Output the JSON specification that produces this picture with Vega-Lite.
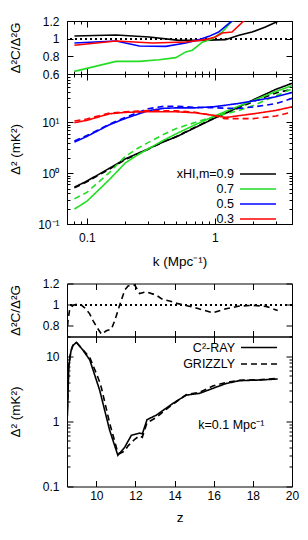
{
  "$schema": "https://vega.github.io/schema/vega-lite/v6.json",
  "padding": {"left": 7, "top": 14, "right": 15, "bottom": 5},
  "background": "white",
  "config": {
    "font": "Liberation Sans",
    "view": {"stroke": "black", "strokeWidth": 1},
    "axis": {
      "labelFont": "Liberation Sans", "labelFontSize": 12, "labelColor": "black",
      "titleFont": "Liberation Sans", "titleFontSize": 13.5, "titleFontWeight": "normal", "titleColor": "black",
      "domain": false, "grid": false, "tickColor": "black", "tickWidth": 1,
      "labelFlush": false, "labelOverlap": false, "labelBound": false
    },
    "legend": {"labelFont": "Liberation Sans", "labelFontSize": 12.5, "labelColor": "black"},
    "line": {"strokeWidth": 1.6}
  },
  "datasets": {
    "ratio_k": [
      {"x": "0.9", "k": 0.08, "r": 1.03}, {"x": "0.9", "k": 0.169, "r": 1.042}, {"x": "0.9", "k": 0.307, "r": 1.019}, {"x": "0.9", "k": 0.525, "r": 0.981}, {"x": "0.9", "k": 0.751, "r": 0.981}, {"x": "0.9", "k": 1.21, "r": 0.989}, {"x": "0.9", "k": 1.54, "r": 1.038}, {"x": "0.9", "k": 1.95, "r": 1.075}, {"x": "0.9", "k": 2.48, "r": 1.132}, {"x": "0.9", "k": 3.14, "r": 1.2}, {"x": "0.9", "k": 4, "r": 1.3},
      {"x": "0.7", "k": 0.08, "r": 0.63}, {"x": "0.7", "k": 0.169, "r": 0.743}, {"x": "0.7", "k": 0.257, "r": 0.743}, {"x": "0.7", "k": 0.367, "r": 0.762}, {"x": "0.7", "k": 0.495, "r": 0.785}, {"x": "0.7", "k": 0.592, "r": 0.85}, {"x": "0.7", "k": 0.667, "r": 0.87}, {"x": "0.7", "k": 0.797, "r": 0.96}, {"x": "0.7", "k": 0.953, "r": 1.0}, {"x": "0.7", "k": 1.14, "r": 1.075}, {"x": "0.7", "k": 1.36, "r": 1.2}, {"x": "0.7", "k": 2, "r": 1.25},
      {"x": "0.5", "k": 0.08, "r": 0.951}, {"x": "0.5", "k": 0.169, "r": 0.974}, {"x": "0.5", "k": 0.257, "r": 0.917}, {"x": "0.5", "k": 0.414, "r": 0.913}, {"x": "0.5", "k": 0.592, "r": 0.951}, {"x": "0.5", "k": 0.751, "r": 0.989}, {"x": "0.5", "k": 0.898, "r": 1.026}, {"x": "0.5", "k": 1.07, "r": 1.075}, {"x": "0.5", "k": 1.28, "r": 1.17}, {"x": "0.5", "k": 1.36, "r": 1.2}, {"x": "0.5", "k": 2, "r": 1.31},
      {"x": "0.3", "k": 0.08, "r": 0.925}, {"x": "0.3", "k": 0.169, "r": 0.974}, {"x": "0.3", "k": 0.326, "r": 0.951}, {"x": "0.3", "k": 0.592, "r": 0.962}, {"x": "0.3", "k": 0.846, "r": 0.989}, {"x": "0.3", "k": 1.01, "r": 1.019}, {"x": "0.3", "k": 1.14, "r": 1.064}, {"x": "0.3", "k": 1.36, "r": 1.075}, {"x": "0.3", "k": 1.68, "r": 1.2}, {"x": "0.3", "k": 2, "r": 1.28}
    ],
    "pk": [
      {"x": "0.9", "model": "C²-RAY", "k": 0.08, "v": 0.53}, {"x": "0.9", "model": "C²-RAY", "k": 0.1, "v": 0.7}, {"x": "0.9", "model": "C²-RAY", "k": 0.15, "v": 1.25}, {"x": "0.9", "model": "C²-RAY", "k": 0.2, "v": 1.92}, {"x": "0.9", "model": "C²-RAY", "k": 0.3, "v": 3.0}, {"x": "0.9", "model": "C²-RAY", "k": 0.4, "v": 4.2}, {"x": "0.9", "model": "C²-RAY", "k": 0.5, "v": 5.2}, {"x": "0.9", "model": "C²-RAY", "k": 0.7, "v": 7.9}, {"x": "0.9", "model": "C²-RAY", "k": 1, "v": 12.2}, {"x": "0.9", "model": "C²-RAY", "k": 1.5, "v": 19.5}, {"x": "0.9", "model": "C²-RAY", "k": 2, "v": 28}, {"x": "0.9", "model": "C²-RAY", "k": 3, "v": 45}, {"x": "0.9", "model": "C²-RAY", "k": 4, "v": 59},
      {"x": "0.9", "model": "GRIZZLY", "k": 0.08, "v": 0.515}, {"x": "0.9", "model": "GRIZZLY", "k": 0.1, "v": 0.677}, {"x": "0.9", "model": "GRIZZLY", "k": 0.15, "v": 1.2}, {"x": "0.9", "model": "GRIZZLY", "k": 0.2, "v": 1.86}, {"x": "0.9", "model": "GRIZZLY", "k": 0.3, "v": 2.94}, {"x": "0.9", "model": "GRIZZLY", "k": 0.4, "v": 4.2}, {"x": "0.9", "model": "GRIZZLY", "k": 0.5, "v": 5.28}, {"x": "0.9", "model": "GRIZZLY", "k": 0.7, "v": 8.05}, {"x": "0.9", "model": "GRIZZLY", "k": 1, "v": 12.4}, {"x": "0.9", "model": "GRIZZLY", "k": 1.5, "v": 18.8}, {"x": "0.9", "model": "GRIZZLY", "k": 2, "v": 25.9}, {"x": "0.9", "model": "GRIZZLY", "k": 3, "v": 38}, {"x": "0.9", "model": "GRIZZLY", "k": 4, "v": 45.4},
      {"x": "0.7", "model": "C²-RAY", "k": 0.08, "v": 0.197}, {"x": "0.7", "model": "C²-RAY", "k": 0.1, "v": 0.28}, {"x": "0.7", "model": "C²-RAY", "k": 0.15, "v": 0.75}, {"x": "0.7", "model": "C²-RAY", "k": 0.2, "v": 1.6}, {"x": "0.7", "model": "C²-RAY", "k": 0.25, "v": 2.3}, {"x": "0.7", "model": "C²-RAY", "k": 0.3, "v": 3.0}, {"x": "0.7", "model": "C²-RAY", "k": 0.4, "v": 4.5}, {"x": "0.7", "model": "C²-RAY", "k": 0.5, "v": 6.0}, {"x": "0.7", "model": "C²-RAY", "k": 0.7, "v": 9.0}, {"x": "0.7", "model": "C²-RAY", "k": 1, "v": 13.5}, {"x": "0.7", "model": "C²-RAY", "k": 1.5, "v": 20.5}, {"x": "0.7", "model": "C²-RAY", "k": 2, "v": 27}, {"x": "0.7", "model": "C²-RAY", "k": 3, "v": 41}, {"x": "0.7", "model": "C²-RAY", "k": 4, "v": 53},
      {"x": "0.7", "model": "GRIZZLY", "k": 0.08, "v": 0.313}, {"x": "0.7", "model": "GRIZZLY", "k": 0.1, "v": 0.42}, {"x": "0.7", "model": "GRIZZLY", "k": 0.15, "v": 1.03}, {"x": "0.7", "model": "GRIZZLY", "k": 0.2, "v": 2.15}, {"x": "0.7", "model": "GRIZZLY", "k": 0.25, "v": 3.1}, {"x": "0.7", "model": "GRIZZLY", "k": 0.3, "v": 4.0}, {"x": "0.7", "model": "GRIZZLY", "k": 0.4, "v": 5.84}, {"x": "0.7", "model": "GRIZZLY", "k": 0.5, "v": 7.6}, {"x": "0.7", "model": "GRIZZLY", "k": 0.7, "v": 10}, {"x": "0.7", "model": "GRIZZLY", "k": 1, "v": 13.2}, {"x": "0.7", "model": "GRIZZLY", "k": 1.5, "v": 16.8}, {"x": "0.7", "model": "GRIZZLY", "k": 2, "v": 21.6}, {"x": "0.7", "model": "GRIZZLY", "k": 3, "v": 33.6}, {"x": "0.7", "model": "GRIZZLY", "k": 4, "v": 45.7},
      {"x": "0.5", "model": "C²-RAY", "k": 0.08, "v": 4.1}, {"x": "0.5", "model": "C²-RAY", "k": 0.1, "v": 5.3}, {"x": "0.5", "model": "C²-RAY", "k": 0.15, "v": 9.0}, {"x": "0.5", "model": "C²-RAY", "k": 0.2, "v": 12.0}, {"x": "0.5", "model": "C²-RAY", "k": 0.3, "v": 17.0}, {"x": "0.5", "model": "C²-RAY", "k": 0.4, "v": 19.0}, {"x": "0.5", "model": "C²-RAY", "k": 0.5, "v": 19.4}, {"x": "0.5", "model": "C²-RAY", "k": 0.7, "v": 19.4}, {"x": "0.5", "model": "C²-RAY", "k": 1, "v": 20.5}, {"x": "0.5", "model": "C²-RAY", "k": 1.5, "v": 23.5}, {"x": "0.5", "model": "C²-RAY", "k": 2, "v": 26.5}, {"x": "0.5", "model": "C²-RAY", "k": 3, "v": 32}, {"x": "0.5", "model": "C²-RAY", "k": 4, "v": 39},
      {"x": "0.5", "model": "GRIZZLY", "k": 0.08, "v": 4.31}, {"x": "0.5", "model": "GRIZZLY", "k": 0.1, "v": 5.53}, {"x": "0.5", "model": "GRIZZLY", "k": 0.15, "v": 9.28}, {"x": "0.5", "model": "GRIZZLY", "k": 0.2, "v": 12.6}, {"x": "0.5", "model": "GRIZZLY", "k": 0.3, "v": 18.6}, {"x": "0.5", "model": "GRIZZLY", "k": 0.4, "v": 20.8}, {"x": "0.5", "model": "GRIZZLY", "k": 0.5, "v": 20.9}, {"x": "0.5", "model": "GRIZZLY", "k": 0.7, "v": 19.9}, {"x": "0.5", "model": "GRIZZLY", "k": 1, "v": 19.4}, {"x": "0.5", "model": "GRIZZLY", "k": 1.5, "v": 18.8}, {"x": "0.5", "model": "GRIZZLY", "k": 2, "v": 20.2}, {"x": "0.5", "model": "GRIZZLY", "k": 3, "v": 23.5}, {"x": "0.5", "model": "GRIZZLY", "k": 4, "v": 29.8},
      {"x": "0.3", "model": "C²-RAY", "k": 0.08, "v": 9.9}, {"x": "0.3", "model": "C²-RAY", "k": 0.1, "v": 11.0}, {"x": "0.3", "model": "C²-RAY", "k": 0.15, "v": 14.8}, {"x": "0.3", "model": "C²-RAY", "k": 0.2, "v": 15.8}, {"x": "0.3", "model": "C²-RAY", "k": 0.3, "v": 16.3}, {"x": "0.3", "model": "C²-RAY", "k": 0.4, "v": 16.2}, {"x": "0.3", "model": "C²-RAY", "k": 0.5, "v": 16.2}, {"x": "0.3", "model": "C²-RAY", "k": 0.7, "v": 15.5}, {"x": "0.3", "model": "C²-RAY", "k": 1, "v": 13.7}, {"x": "0.3", "model": "C²-RAY", "k": 1.2, "v": 12.6}, {"x": "0.3", "model": "C²-RAY", "k": 1.3, "v": 12.8}, {"x": "0.3", "model": "C²-RAY", "k": 1.5, "v": 13.5}, {"x": "0.3", "model": "C²-RAY", "k": 2, "v": 14.8}, {"x": "0.3", "model": "C²-RAY", "k": 3, "v": 17.3}, {"x": "0.3", "model": "C²-RAY", "k": 4, "v": 20.3},
      {"x": "0.3", "model": "GRIZZLY", "k": 0.08, "v": 10.7}, {"x": "0.3", "model": "GRIZZLY", "k": 0.1, "v": 11.7}, {"x": "0.3", "model": "GRIZZLY", "k": 0.15, "v": 15.3}, {"x": "0.3", "model": "GRIZZLY", "k": 0.2, "v": 16.3}, {"x": "0.3", "model": "GRIZZLY", "k": 0.3, "v": 17.1}, {"x": "0.3", "model": "GRIZZLY", "k": 0.4, "v": 17.0}, {"x": "0.3", "model": "GRIZZLY", "k": 0.5, "v": 16.9}, {"x": "0.3", "model": "GRIZZLY", "k": 0.7, "v": 15.9}, {"x": "0.3", "model": "GRIZZLY", "k": 1, "v": 13.5}, {"x": "0.3", "model": "GRIZZLY", "k": 1.2, "v": 11.8}, {"x": "0.3", "model": "GRIZZLY", "k": 1.3, "v": 11.9}, {"x": "0.3", "model": "GRIZZLY", "k": 1.5, "v": 11.9}, {"x": "0.3", "model": "GRIZZLY", "k": 2, "v": 11.9}, {"x": "0.3", "model": "GRIZZLY", "k": 3, "v": 13.4}, {"x": "0.3", "model": "GRIZZLY", "k": 4, "v": 16.1}
    ],
    "ratio_z": [
      {"z": 8.5, "r": 0.706}, {"z": 8.55, "r": 0.85}, {"z": 8.64, "r": 0.962}, {"z": 8.81, "r": 0.994}, {"z": 9.15, "r": 1.01}, {"z": 9.4, "r": 0.971}, {"z": 9.66, "r": 0.914}, {"z": 9.83, "r": 0.85}, {"z": 10.03, "r": 0.786}, {"z": 10.26, "r": 0.722}, {"z": 10.51, "r": 0.754}, {"z": 10.77, "r": 0.77}, {"z": 10.94, "r": 0.85}, {"z": 11.19, "r": 0.994}, {"z": 11.45, "r": 1.138}, {"z": 11.62, "r": 1.176}, {"z": 11.96, "r": 1.186}, {"z": 12.21, "r": 1.106}, {"z": 12.55, "r": 1.122}, {"z": 13.06, "r": 1.09}, {"z": 13.4, "r": 1.048}, {"z": 13.74, "r": 1.035}, {"z": 14.17, "r": 1.01}, {"z": 14.93, "r": 0.978}, {"z": 15.95, "r": 0.923}, {"z": 16.63, "r": 0.962}, {"z": 17.31, "r": 0.987}, {"z": 17.99, "r": 0.994}, {"z": 18.67, "r": 0.984}, {"z": 19.27, "r": 0.946}
    ],
    "pz": [
      {"model": "C²-RAY", "z": 8.52, "v": 1.2}, {"model": "C²-RAY", "z": 8.59, "v": 6.9}, {"model": "C²-RAY", "z": 8.7, "v": 11.8}, {"model": "C²-RAY", "z": 8.8, "v": 14.5}, {"model": "C²-RAY", "z": 8.98, "v": 16.3}, {"model": "C²-RAY", "z": 9.3, "v": 12.5}, {"model": "C²-RAY", "z": 9.66, "v": 8.8}, {"model": "C²-RAY", "z": 10.17, "v": 3.0}, {"model": "C²-RAY", "z": 10.68, "v": 0.73}, {"model": "C²-RAY", "z": 11.1, "v": 0.3}, {"model": "C²-RAY", "z": 11.45, "v": 0.4}, {"model": "C²-RAY", "z": 11.79, "v": 0.61}, {"model": "C²-RAY", "z": 12.21, "v": 0.66}, {"model": "C²-RAY", "z": 12.35, "v": 0.64}, {"model": "C²-RAY", "z": 12.59, "v": 1.06}, {"model": "C²-RAY", "z": 13.06, "v": 1.24}, {"model": "C²-RAY", "z": 13.91, "v": 1.88}, {"model": "C²-RAY", "z": 14.59, "v": 2.52}, {"model": "C²-RAY", "z": 15.27, "v": 2.68}, {"model": "C²-RAY", "z": 15.95, "v": 3.2}, {"model": "C²-RAY", "z": 16.63, "v": 3.8}, {"model": "C²-RAY", "z": 17.31, "v": 4.2}, {"model": "C²-RAY", "z": 18.33, "v": 4.3}, {"model": "C²-RAY", "z": 19.27, "v": 4.46},
      {"model": "GRIZZLY", "z": 8.52, "v": 1.5}, {"model": "GRIZZLY", "z": 8.59, "v": 7.5}, {"model": "GRIZZLY", "z": 8.7, "v": 12.1}, {"model": "GRIZZLY", "z": 8.8, "v": 14.6}, {"model": "GRIZZLY", "z": 8.98, "v": 16.3}, {"model": "GRIZZLY", "z": 9.3, "v": 12.6}, {"model": "GRIZZLY", "z": 9.66, "v": 9.6}, {"model": "GRIZZLY", "z": 9.83, "v": 7.2}, {"model": "GRIZZLY", "z": 10.03, "v": 5.15}, {"model": "GRIZZLY", "z": 10.17, "v": 4.0}, {"model": "GRIZZLY", "z": 10.26, "v": 3.25}, {"model": "GRIZZLY", "z": 10.51, "v": 1.55}, {"model": "GRIZZLY", "z": 10.68, "v": 0.94}, {"model": "GRIZZLY", "z": 10.94, "v": 0.49}, {"model": "GRIZZLY", "z": 11.1, "v": 0.33}, {"model": "GRIZZLY", "z": 11.19, "v": 0.32}, {"model": "GRIZZLY", "z": 11.45, "v": 0.35}, {"model": "GRIZZLY", "z": 11.62, "v": 0.42}, {"model": "GRIZZLY", "z": 11.96, "v": 0.53}, {"model": "GRIZZLY", "z": 12.21, "v": 0.6}, {"model": "GRIZZLY", "z": 12.35, "v": 0.57}, {"model": "GRIZZLY", "z": 12.59, "v": 0.95}, {"model": "GRIZZLY", "z": 13.06, "v": 1.14}, {"model": "GRIZZLY", "z": 13.4, "v": 1.39}, {"model": "GRIZZLY", "z": 13.91, "v": 1.83}, {"model": "GRIZZLY", "z": 14.59, "v": 2.55}, {"model": "GRIZZLY", "z": 15.27, "v": 2.79}, {"model": "GRIZZLY", "z": 15.95, "v": 3.47}, {"model": "GRIZZLY", "z": 16.63, "v": 3.95}, {"model": "GRIZZLY", "z": 17.31, "v": 4.26}, {"model": "GRIZZLY", "z": 18.33, "v": 4.34}, {"model": "GRIZZLY", "z": 19.27, "v": 4.55}
    ],
    "note": [{"label": "k=0.1 Mpc⁻¹"}]
  },
  "resolve": {"scale": {"x": "independent", "y": "independent", "color": "independent", "strokeDash": "independent"}},
  "spacing": 8.5,
  "vconcat": [
    {
      "bounds": "flush",
      "spacing": 0,
      "resolve": {"scale": {"x": "independent", "y": "independent", "color": "independent", "strokeDash": "independent"}},
      "vconcat": [
        {
          "width": 225, "height": 53,
          "resolve": {"axis": {"x": "independent", "y": "independent"}},
          "layer": [
            {
              "data": {"name": "ratio_k"},
              "mark": {"type": "rule", "strokeDash": [2, 3], "strokeWidth": 1, "color": "black"},
              "encoding": {"y": {"datum": 1, "type": "quantitative", "scale": {"domain": [0.6, 1.2], "nice": false, "zero": false}, "axis": null}}
            },
            {
              "data": {"name": "ratio_k"},
              "mark": {"type": "line", "clip": true},
              "encoding": {
                "x": {"field": "k", "type": "quantitative", "scale": {"type": "log", "domain": [0.07, 4], "nice": false},
                  "axis": {"orient": "bottom", "labels": false, "title": null, "values": [0.07, 0.08, 0.09, 0.1, 0.2, 0.3, 0.4, 0.5, 0.6, 0.7, 0.8, 0.9, 1, 2, 3, 4],
                    "tickSize": {"condition": {"test": "datum.value == 0.1 || datum.value == 1", "value": -6}, "value": -3}}},
                "y": {"field": "r", "type": "quantitative", "scale": {"domain": [0.6, 1.2], "nice": false, "zero": false},
                  "axis": {"orient": "left", "title": "Δ²C/Δ²G", "values": [0.6, 0.8, 1, 1.2], "format": "~g", "tickSize": -6, "labelPadding": 14, "titlePadding": 20}},
                "color": {"field": "x", "type": "nominal", "scale": {"domain": ["0.9", "0.7", "0.5", "0.3"], "range": ["#000000", "#22dd22", "#0000ff", "#ff0000"]}, "legend": null},
                "order": {"field": "k", "type": "quantitative"}
              }
            },
            {
              "data": {"name": "ratio_k"},
              "mark": {"type": "line", "clip": true, "opacity": 0},
              "encoding": {
                "x": {"field": "k", "type": "quantitative", "scale": {"type": "log", "domain": [0.07, 4], "nice": false},
                  "axis": {"orient": "top", "labels": false, "title": null, "values": [0.07, 0.08, 0.09, 0.1, 0.2, 0.3, 0.4, 0.5, 0.6, 0.7, 0.8, 0.9, 1, 2, 3, 4],
                    "tickSize": {"condition": {"test": "datum.value == 0.1 || datum.value == 1", "value": -6}, "value": -3}}},
                "y": {"field": "r", "type": "quantitative", "scale": {"domain": [0.6, 1.2], "nice": false, "zero": false},
                  "axis": {"orient": "right", "labels": false, "title": null, "values": [0.6, 0.8, 1, 1.2], "tickSize": -6}},
                "detail": {"field": "x"}
              }
            }
          ]
        },
        {
          "width": 225, "height": 150,
          "resolve": {"axis": {"x": "independent", "y": "independent"}},
          "layer": [
            {
              "data": {"name": "pk"},
              "mark": {"type": "line", "clip": true},
              "encoding": {
                "x": {"field": "k", "type": "quantitative", "scale": {"type": "log", "domain": [0.07, 4], "nice": false},
                  "axis": {"orient": "bottom", "title": "k (Mpc⁻¹)", "values": [0.07, 0.08, 0.09, 0.1, 0.2, 0.3, 0.4, 0.5, 0.6, 0.7, 0.8, 0.9, 1, 2, 3, 4],
                    "labelExpr": "datum.value == 0.1 ? '0.1' : (datum.value == 1 ? '1' : '')",
                    "tickSize": {"condition": {"test": "datum.value == 0.1 || datum.value == 1", "value": -6}, "value": -3},
                    "labelPadding": 14, "titlePadding": 8}},
                "y": {"field": "v", "type": "quantitative", "scale": {"type": "log", "domain": [0.1, 90], "nice": false},
                  "axis": {"orient": "left", "title": "Δ² (mK²)", "values": [0.1, 0.2, 0.3, 0.4, 0.5, 0.6, 0.7, 0.8, 0.9, 1, 2, 3, 4, 5, 6, 7, 8, 9, 10, 20, 30, 40, 50, 60, 70, 80, 90],
                    "labelExpr": "datum.value == 0.1 ? '10⁻¹' : (datum.value == 1 ? '10⁰' : (datum.value == 10 ? '10¹' : ''))",
                    "tickSize": {"condition": {"test": "datum.value == 0.1 || datum.value == 1 || datum.value == 10", "value": -6}, "value": -3},
                    "labelPadding": 14, "titlePadding": 15}},
                "color": {"field": "x", "type": "nominal", "scale": {"domain": ["0.9", "0.7", "0.5", "0.3"], "range": ["#000000", "#22dd22", "#0000ff", "#ff0000"]},
                  "legend": {"orient": "none", "legendX": 184, "legendY": 93, "title": null, "symbolType": "M-3,0H3", "symbolSize": 144, "symbolStrokeWidth": 2, "symbolFillColor": "transparent",
                    "labelAlign": "right", "labelOffset": -31, "rowPadding": 1, "padding": 0,
                    "labelExpr": "datum.label == '0.9' ? 'xHI,m=0.9' : datum.label"}},
                "strokeDash": {"field": "model", "type": "nominal", "scale": {"domain": ["C²-RAY", "GRIZZLY"], "range": [[1, 0], [6, 4]]}, "legend": null},
                "order": {"field": "k", "type": "quantitative"}
              }
            },
            {
              "data": {"name": "pk"},
              "mark": {"type": "line", "clip": true, "opacity": 0},
              "encoding": {
                "x": {"field": "k", "type": "quantitative", "scale": {"type": "log", "domain": [0.07, 4], "nice": false},
                  "axis": {"orient": "top", "labels": false, "title": null, "values": [0.07, 0.08, 0.09, 0.1, 0.2, 0.3, 0.4, 0.5, 0.6, 0.7, 0.8, 0.9, 1, 2, 3, 4],
                    "tickSize": {"condition": {"test": "datum.value == 0.1 || datum.value == 1", "value": -6}, "value": -3}}},
                "y": {"field": "v", "type": "quantitative", "scale": {"type": "log", "domain": [0.1, 90], "nice": false},
                  "axis": {"orient": "right", "labels": false, "title": null, "values": [0.1, 0.2, 0.3, 0.4, 0.5, 0.6, 0.7, 0.8, 0.9, 1, 2, 3, 4, 5, 6, 7, 8, 9, 10, 20, 30, 40, 50, 60, 70, 80, 90],
                    "tickSize": {"condition": {"test": "datum.value == 0.1 || datum.value == 1 || datum.value == 10", "value": -6}, "value": -3}}},
                "detail": {"field": "x"}
              }
            }
          ]
        }
      ]
    },
    {
      "bounds": "flush",
      "spacing": 0,
      "resolve": {"scale": {"x": "independent", "y": "independent", "color": "independent", "strokeDash": "independent"}},
      "vconcat": [
        {
          "width": 225, "height": 53,
          "resolve": {"axis": {"x": "independent", "y": "independent"}},
          "layer": [
            {
              "data": {"name": "ratio_z"},
              "mark": {"type": "rule", "strokeDash": [2, 3], "strokeWidth": 1, "color": "black"},
              "encoding": {"y": {"datum": 1, "type": "quantitative", "scale": {"domain": [0.7, 1.2], "nice": false, "zero": false}, "axis": null}}
            },
            {
              "data": {"name": "ratio_z"},
              "mark": {"type": "line", "clip": true, "color": "black", "strokeDash": [6, 4]},
              "encoding": {
                "x": {"field": "z", "type": "quantitative", "scale": {"domain": [8.5, 20], "nice": false, "zero": false},
                  "axis": {"orient": "bottom", "labels": false, "title": null, "values": [10, 12, 14, 16, 18, 20], "tickSize": -6}},
                "y": {"field": "r", "type": "quantitative", "scale": {"domain": [0.7, 1.2], "nice": false, "zero": false},
                  "axis": {"orient": "left", "title": "Δ²C/Δ²G", "values": [0.8, 1, 1.2], "format": "~g", "tickSize": -6, "labelPadding": 14, "titlePadding": 20}}
              }
            },
            {
              "data": {"name": "ratio_z"},
              "mark": {"type": "line", "clip": true, "opacity": 0},
              "encoding": {
                "x": {"field": "z", "type": "quantitative", "scale": {"domain": [8.5, 20], "nice": false, "zero": false},
                  "axis": {"orient": "top", "labels": false, "title": null, "values": [10, 12, 14, 16, 18, 20], "tickSize": -6}},
                "y": {"field": "r", "type": "quantitative", "scale": {"domain": [0.7, 1.2], "nice": false, "zero": false},
                  "axis": {"orient": "right", "labels": false, "title": null, "values": [0.8, 1, 1.2], "tickSize": -6}}
              }
            }
          ]
        },
        {
          "width": 225, "height": 150,
          "resolve": {"axis": {"x": "independent", "y": "independent"}},
          "layer": [
            {
              "data": {"name": "pz"},
              "mark": {"type": "line", "clip": true, "color": "black"},
              "encoding": {
                "x": {"field": "z", "type": "quantitative", "scale": {"domain": [8.5, 20], "nice": false, "zero": false},
                  "axis": {"orient": "bottom", "title": "z", "values": [10, 12, 14, 16, 18, 20], "format": "d", "tickSize": -6, "labelPadding": 10, "titlePadding": 9}},
                "y": {"field": "v", "type": "quantitative", "scale": {"type": "log", "domain": [0.1, 20], "nice": false},
                  "axis": {"orient": "left", "title": "Δ² (mK²)", "values": [0.1, 0.2, 0.3, 0.4, 0.5, 0.6, 0.7, 0.8, 0.9, 1, 2, 3, 4, 5, 6, 7, 8, 9, 10, 20],
                    "labelExpr": "datum.value == 0.1 ? '0.1' : (datum.value == 1 ? '1' : (datum.value == 10 ? '10' : ''))",
                    "tickSize": {"condition": {"test": "datum.value == 0.1 || datum.value == 1 || datum.value == 10", "value": -6}, "value": -3},
                    "labelPadding": 14, "titlePadding": 20}},
                "strokeDash": {"field": "model", "type": "nominal", "scale": {"domain": ["C²-RAY", "GRIZZLY"], "range": [[1, 0], [6, 4]]},
                  "legend": {"orient": "none", "legendX": 185, "legendY": 4, "title": null, "symbolType": "M-3,0H3", "symbolSize": 144, "symbolStrokeWidth": 2, "symbolStrokeColor": "black", "symbolFillColor": "transparent",
                    "labelAlign": "right", "labelOffset": -31, "rowPadding": 2.5, "padding": 0}},
                "order": {"field": "z", "type": "quantitative"}
              }
            },
            {
              "data": {"name": "pz"},
              "mark": {"type": "line", "clip": true, "opacity": 0},
              "encoding": {
                "x": {"field": "z", "type": "quantitative", "scale": {"domain": [8.5, 20], "nice": false, "zero": false},
                  "axis": {"orient": "top", "labels": false, "title": null, "values": [10, 12, 14, 16, 18, 20], "tickSize": -6}},
                "y": {"field": "v", "type": "quantitative", "scale": {"type": "log", "domain": [0.1, 20], "nice": false},
                  "axis": {"orient": "right", "labels": false, "title": null, "values": [0.1, 0.2, 0.3, 0.4, 0.5, 0.6, 0.7, 0.8, 0.9, 1, 2, 3, 4, 5, 6, 7, 8, 9, 10, 20],
                    "tickSize": {"condition": {"test": "datum.value == 0.1 || datum.value == 1 || datum.value == 10", "value": -6}, "value": -3}}},
                "detail": {"field": "model"}
              }
            },
            {
              "data": {"name": "note"},
              "mark": {"type": "text", "fontSize": 12.5, "font": "Liberation Sans", "color": "black", "align": "center", "baseline": "middle"},
              "encoding": {
                "text": {"field": "label"},
                "x": {"datum": 16.9, "type": "quantitative", "scale": {"domain": [8.5, 20], "nice": false, "zero": false}, "axis": null},
                "y": {"datum": 0.88, "type": "quantitative", "scale": {"type": "log", "domain": [0.1, 20], "nice": false}, "axis": null}
              }
            }
          ]
        }
      ]
    }
  ]
}
